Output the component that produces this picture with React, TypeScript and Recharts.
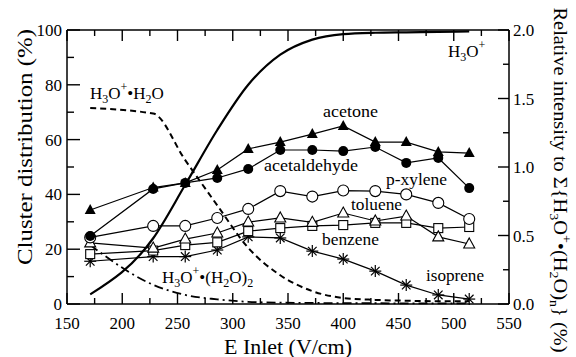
import { LineChart, Line, XAxis, YAxis } from "recharts"

const eInlet = [171, 228, 257, 286, 314, 343, 372, 400, 429, 457, 486, 514]
const acetone = [34.3, 42.5, 44.2, 48.9, 56.6, 59.1, 62, 65, 59.1, 59.1, 55.5, 55.1]
const acetaldehyde = [24.8, 42, 44.2, 46, 49.3, 56.2, 56.2, 55.8, 57.3, 51.5, 53.3, 42.3]
const pXylene = [24.3, 28.5, 28.5, 31.4, 34.7, 41.2, 39.2, 41.4, 41.2, 40, 36.9, 31]
const toluene = [22.3, 20.4, 23.7, 25.9, 29.9, 31.4, 29.8, 33.2, 30.3, 32.1, 24.5, 21.9]
const benzene = [18.2, 19.5, 21.5, 22.5, 26.6, 27.7, 28.5, 28.8, 29.6, 29.6, 27.7, 28.1]
const isoprene = [15.6, 17.3, 17.3, 19.7, 24.5, 24.1, 19.3, 16.4, 12, 6.9, 3.3, 1.8]
// right axis (relative intensity)
const h3o = [0.07, 0.48, 0.87, 1.27, 1.6, 1.82, 1.93, 1.97, 1.98, 1.983, 1.986, 1.99]
const h3oH2o = [1.43, 1.39, 1.05, 0.72, 0.41, 0.21, 0.094, 0.044, 0.03, 0.024, 0.02, 0.02]
const h3oH2o2 = [0.43, 0.14, 0.066, 0.034, 0.016, 0.01, 0.008, 0.006, 0.006, 0.004, 0.004, 0.004]

const xTicks = [150, 175, 200, 225, 250, 275, 300, 325, 350, 375, 400, 425, 450, 475, 500, 525, 550]
const leftTicks = [0, 10, 20, 30, 40, 50, 60, 70, 80, 90, 100]
const rightTicks = [0, 0.25, 0.5, 0.75, 1, 1.25, 1.5, 1.75, 2]

const FONT = "'Liberation Serif', 'Times New Roman', serif"
const serif = { fontFamily: FONT }
const axisStyle = { stroke: "#000", strokeWidth: 1.5 }
const MAJ = 11
const MIN = 6

const BottomTick = (p: any) => {
  const v = p.payload.value
  const major = v % 50 === 0
  return (
    <g>
      <line x1={p.x} y1={p.y} x2={p.x} y2={p.y - (major ? MAJ : MIN)} stroke="#000" strokeWidth={1.4} />
      {major && (
        <text x={p.x} y={p.y + 25} textAnchor="middle" fontSize={17} style={serif} fill="#000">
          {v}
        </text>
      )}
    </g>
  )
}

const TopTick = (p: any) => {
  const major = p.payload.value % 50 === 0
  return <line x1={p.x} y1={p.y} x2={p.x} y2={p.y + (major ? MAJ : MIN)} stroke="#000" strokeWidth={1.4} />
}

const LeftTick = (p: any) => {
  const v = p.payload.value
  const major = v % 20 === 0
  return (
    <g>
      <line x1={p.x} y1={p.y} x2={p.x + (major ? MAJ + 2 : MIN + 1)} y2={p.y} stroke="#000" strokeWidth={1.4} />
      {major && (
        <text x={p.x - 5} y={p.y + 6} textAnchor="end" fontSize={17} style={serif} fill="#000">
          {v}
        </text>
      )}
    </g>
  )
}

const RightTick = (p: any) => {
  const v = p.payload.value
  const major = v % 0.5 === 0
  return (
    <g>
      <line x1={p.x} y1={p.y} x2={p.x - (major ? MAJ : MIN)} y2={p.y} stroke="#000" strokeWidth={1.4} />
      {major && (
        <text x={p.x + 4} y={p.y + 6} textAnchor="start" fontSize={17} style={serif} fill="#000">
          {v.toFixed(1)}
        </text>
      )}
    </g>
  )
}

const FilledTri = (p: any) =>
  p.cx == null ? null : (
    <path key={p.index} d={`M${p.cx},${p.cy - 6} L${p.cx + 5.5},${p.cy + 4} L${p.cx - 5.5},${p.cy + 4} Z`} fill="#000" />
  )
const OpenTri = (p: any) =>
  p.cx == null ? null : (
    <path key={p.index} d={`M${p.cx},${p.cy - 6} L${p.cx + 5.5},${p.cy + 4} L${p.cx - 5.5},${p.cy + 4} Z`} fill="#fff" stroke="#000" strokeWidth={1.1} />
  )
const FilledCircle = (p: any) => (p.cx == null ? null : <circle key={p.index} cx={p.cx} cy={p.cy} r={5} fill="#000" />)
const OpenCircle = (p: any) =>
  p.cx == null ? null : <circle key={p.index} cx={p.cx} cy={p.cy} r={5.5} fill="#fff" stroke="#000" strokeWidth={1.1} />
const OpenSquare = (p: any) =>
  p.cx == null ? null : <rect key={p.index} x={p.cx - 4.5} y={p.cy - 4.5} width={9} height={9} fill="#fff" stroke="#000" strokeWidth={1.1} />
const Star = (p: any) => {
  if (p.cx == null) return null
  const r = 6
  const d = 4.3
  return (
    <g key={p.index} stroke="#000" strokeWidth={1.2}>
      <line x1={p.cx - r} y1={p.cy} x2={p.cx + r} y2={p.cy} />
      <line x1={p.cx} y1={p.cy - r} x2={p.cx} y2={p.cy + r} />
      <line x1={p.cx - d} y1={p.cy - d} x2={p.cx + d} y2={p.cy + d} />
      <line x1={p.cx - d} y1={p.cy + d} x2={p.cx + d} y2={p.cy - d} />
    </g>
  )
}

export default function App() {
  const data = eInlet.map((x, i) => ({
    x,
    acetone: acetone[i],
    acetaldehyde: acetaldehyde[i],
    pXylene: pXylene[i],
    toluene: toluene[i],
    benzene: benzene[i],
    isoprene: isoprene[i],
    h3o: h3o[i],
    h3oH2o: h3oH2o[i],
    h3oH2o2: h3oH2o2[i],
  }))

  const series = (key: string, dot: any) => (
    <Line
      key={key}
      xAxisId="b"
      yAxisId="l"
      dataKey={key}
      type="linear"
      stroke="#000"
      strokeWidth={1.2}
      dot={dot}
      activeDot={false}
      isAnimationActive={false}
    />
  )

  const lbl = { style: serif, fontSize: 17, fill: "#000" }

  return (
    <div style={{ position: "relative", width: 576, height: 357, background: "#fff" }}>
      <style>{"body{margin:0}"}</style>
      <LineChart width={576} height={357} data={data} margin={{ top: 0, right: 0, bottom: 0, left: 0 }}>
        <XAxis xAxisId="b" dataKey="x" type="number" domain={[150, 550]} ticks={xTicks} interval={0}
          tickSize={0} tickMargin={0} tick={BottomTick} axisLine={axisStyle} height={53} />
        <XAxis xAxisId="t" dataKey="x" orientation="top" type="number" domain={[150, 550]} ticks={xTicks} interval={0}
          tickSize={0} tickMargin={0} tick={TopTick} axisLine={axisStyle} height={30} />
        <YAxis yAxisId="l" type="number" domain={[0, 100]} ticks={leftTicks} interval={0}
          tickSize={0} tickMargin={0} tick={LeftTick} axisLine={axisStyle} width={67} />
        <YAxis yAxisId="r" orientation="right" type="number" domain={[0, 2]} ticks={rightTicks} interval={0}
          tickSize={0} tickMargin={0} tick={RightTick} axisLine={axisStyle} width={67} />

        <Line xAxisId="b" yAxisId="r" dataKey="h3o" type="monotone" stroke="#000" strokeWidth={2.2}
          dot={false} activeDot={false} isAnimationActive={false} />
        <Line xAxisId="b" yAxisId="r" dataKey="h3oH2o" type="monotone" stroke="#000" strokeWidth={2}
          strokeDasharray="6 4" dot={false} activeDot={false} isAnimationActive={false} />
        <Line xAxisId="b" yAxisId="r" dataKey="h3oH2o2" type="monotone" stroke="#000" strokeWidth={1.8}
          strokeDasharray="9 4 2 4" dot={false} activeDot={false} isAnimationActive={false} />

        {series("isoprene", Star)}
        {series("benzene", OpenSquare)}
        {series("toluene", OpenTri)}
        {series("pXylene", OpenCircle)}
        {series("acetaldehyde", FilledCircle)}
        {series("acetone", FilledTri)}
      </LineChart>

      <svg width={576} height={357} style={{ position: "absolute", left: 0, top: 0, pointerEvents: "none" }}>
        <text x={448} y={57} {...lbl}>
          H<tspan fontSize={12} dy={4}>3</tspan>
          <tspan dy={-4}>O</tspan>
          <tspan fontSize={12} dy={-8}>+</tspan>
        </text>
        <text x={90} y={99} {...lbl}>
          H<tspan fontSize={12} dy={4}>3</tspan>
          <tspan dy={-4}>O</tspan>
          <tspan fontSize={12} dy={-8}>+</tspan>
          <tspan dy={8}>•H</tspan>
          <tspan fontSize={12} dy={4}>2</tspan>
          <tspan dy={-4}>O</tspan>
        </text>
        <text x={162} y={283} {...lbl}>
          H<tspan fontSize={12} dy={4}>3</tspan>
          <tspan dy={-4}>O</tspan>
          <tspan fontSize={12} dy={-8}>+</tspan>
          <tspan dy={8}>•(H</tspan>
          <tspan fontSize={12} dy={4}>2</tspan>
          <tspan dy={-4}>O)</tspan>
          <tspan fontSize={12} dy={4}>2</tspan>
        </text>
        <text x={323} y={117} textLength={55} lengthAdjust="spacingAndGlyphs" {...lbl}>acetone</text>
        <text x={264} y={171} textLength={94} lengthAdjust="spacingAndGlyphs" {...lbl}>acetaldehyde</text>
        <text x={386} y={185} textLength={61} lengthAdjust="spacingAndGlyphs" {...lbl}>p-xylene</text>
        <text x={351} y={210} textLength={51} lengthAdjust="spacingAndGlyphs" {...lbl}>toluene</text>
        <text x={322} y={245} textLength={57} lengthAdjust="spacingAndGlyphs" {...lbl}>benzene</text>
        <text x={426} y={281} textLength={58} lengthAdjust="spacingAndGlyphs" {...lbl}>isoprene</text>

        <text x={288} y={354} textAnchor="middle" style={serif} fontSize={20} textLength={128}
          lengthAdjust="spacingAndGlyphs" fill="#000">E Inlet (V/cm)</text>
        <text x={32} y={147} transform="rotate(-90 32 147)" textAnchor="middle" style={serif} fontSize={21}
          textLength={236} lengthAdjust="spacingAndGlyphs" fill="#000">Cluster distribution (%)</text>
        <text x={554} y={180} transform="rotate(90 554 180)" textAnchor="middle" style={serif} fontSize={19}
          textLength={345} lengthAdjust="spacingAndGlyphs" fill="#000">
          Relative intensity to Σ{"{"}H<tspan fontSize={13} dy={4}>3</tspan>
          <tspan dy={-4}>O</tspan>
          <tspan fontSize={13} dy={-8}>+</tspan>
          <tspan dy={8}>•(H</tspan>
          <tspan fontSize={13} dy={4}>2</tspan>
          <tspan dy={-4}>O)</tspan>
          <tspan fontSize={13} dy={4}>n</tspan>
          <tspan dy={-4}>{"}"} (%)</tspan>
        </text>
      </svg>
    </div>
  )
}
